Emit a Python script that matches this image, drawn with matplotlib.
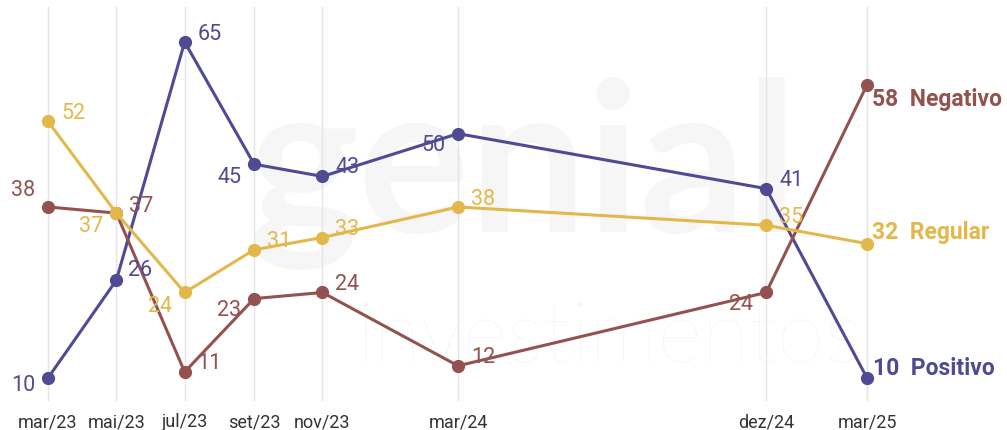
import matplotlib
matplotlib.use("Agg")
import matplotlib.pyplot as plt
import pandas as pd

# ---- data ----
dates = ["2023-03-01", "2023-05-01", "2023-07-01", "2023-09-01", "2023-11-01",
         "2024-03-01", "2024-12-01", "2025-03-01"]
tick_labels = ["mar/23", "mai/23", "jul/23", "set/23", "nov/23", "mar/24", "dez/24", "mar/25"]
positivo = [10, 26, 65, 45, 43, 50, 41, 10]
negativo = [38, 37, 11, 23, 24, 12, 24, 58]
regular = [52, 37, 24, 31, 33, 38, 35, 32]
series_names = ["Positivo", "Negativo", "Regular"]

# ---- styles ----
colors = {"Positivo": "#4f4a94", "Negativo": "#93524f", "Regular": "#e3b84b"}
# label offsets in pixels (dx, dy up) and alignment for each point
offsets = {
    "Positivo": [(-13, -6, "right"), (12, 11, "left"), (13, 9, "left"), (-13, -12, "right"),
                 (13, 10, "left"), (-13, -11, "right"), (13, 9, "left"), None],
    "Negativo": [(-13, 17, "right"), (13, 8, "left"), (13, 9, "left"), (-13, -11, "right"),
                 (13, 9, "left"), (13, 9, "left"), (-13, -11, "right"), None],
    "Regular":  [(13, 9, "left"), (-13, -12, "right"), (-13, -13, "right"), (13, 9, "left"),
                 (13, 9, "left"), (13, 8, "left"), (13, 9, "left"), None],
}
end_offsets = {"Positivo": (6, 11), "Negativo": (5, -14), "Regular": (5, 12)}

plt.rcParams["font.family"] = ["Roboto", "DejaVu Sans"]

x = pd.to_datetime(dates)
values = {"Positivo": positivo, "Negativo": negativo, "Regular": regular}

W, H = 1007, 431
fig = plt.figure(figsize=(W / 100, H / 100), dpi=100)
ax = fig.add_axes([0, (H - 402) / H, 1, (402 - 8) / H])

day0 = x[0]
ax.set_xlim(day0 - pd.Timedelta(days=42.8), day0 + pd.Timedelta(days=855.9))
ax.set_ylim(6.24, 70.73)

# watermark
ax.text(0.52, 0.58, "genial", transform=ax.transAxes, fontsize=150, fontweight="bold",
        color="#f5f6f5", ha="center", va="center", zorder=0, family=["Lato", "DejaVu Sans"])
ax.text(0.605, 0.16, "investimentos", transform=ax.transAxes, fontsize=62, fontweight="light",
        color="#f5f6f5", ha="center", va="center", zorder=0, family=["Lato", "DejaVu Sans"])

for xi in x:
    ax.axvline(xi, color="#e4e4e4", lw=1, zorder=1)

for name in series_names:
    c = colors[name]
    v = values[name]
    ax.plot(x, v, color=c, lw=2.2, marker="o", markersize=8.5, zorder=3)
    for i, (xi, vi) in enumerate(zip(x, v)):
        off = offsets[name][i]
        if off is None:
            dx, dy = end_offsets[name]
            ax.annotate(f"{vi}  {name}", (xi, vi), xytext=(dx * 0.72, dy * 0.72),
                        textcoords="offset points", ha="left", va="center",
                        fontsize=16.5, fontweight="bold", color=c, zorder=4)
        else:
            dx, dy, ha = off
            ax.annotate(f"{vi}", (xi, vi), xytext=(dx * 0.72, dy * 0.72),
                        textcoords="offset points", ha=ha, va="center",
                        fontsize=15.5, color=c, zorder=4)

ax.set_xticks(x)
ax.set_xticklabels(tick_labels, fontsize=13, color="#333333")
ax.tick_params(axis="x", length=0, pad=8)
ax.set_yticks([])
for s in ax.spines.values():
    s.set_visible(False)
ax.patch.set_alpha(0)

fig.savefig("out.png", dpi=100, facecolor="white")
